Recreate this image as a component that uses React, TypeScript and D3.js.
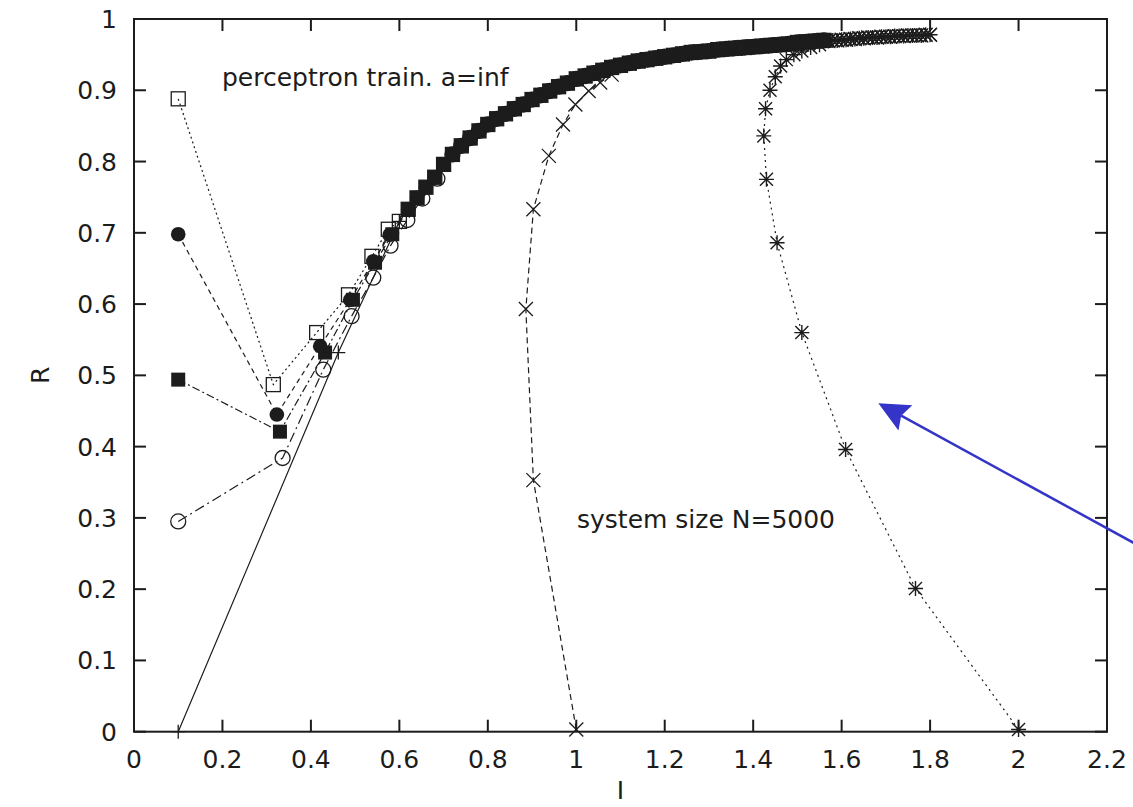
import React from "react";
import * as d3 from "d3";

const xTicks = [0, 0.2, 0.4, 0.6, 0.8, 1, 1.2, 1.4, 1.6, 1.8, 2, 2.2];
const yTicks = [0, 0.1, 0.2, 0.3, 0.4, 0.5, 0.6, 0.7, 0.8, 0.9, 1];

// shared upper branch (I, R) where the runs pile up
const band: [number, number][] = [
  [0.6, 0.716], [0.62, 0.733], [0.64, 0.749], [0.66, 0.764], [0.68, 0.778],
  [0.7, 0.796], [0.72, 0.81], [0.74, 0.822], [0.76, 0.833], [0.78, 0.843],
  [0.8, 0.852], [0.82, 0.86], [0.84, 0.867], [0.86, 0.874], [0.88, 0.88],
  [0.9, 0.887], [0.92, 0.893], [0.94, 0.899], [0.96, 0.905], [0.98, 0.91],
  [1.0, 0.916], [1.02, 0.92], [1.04, 0.924], [1.06, 0.928], [1.08, 0.932],
  [1.1, 0.935], [1.12, 0.938], [1.14, 0.941], [1.16, 0.943], [1.18, 0.945],
  [1.2, 0.947], [1.22, 0.949], [1.24, 0.951], [1.26, 0.953], [1.28, 0.954],
  [1.3, 0.955], [1.32, 0.957], [1.34, 0.958], [1.36, 0.959], [1.38, 0.96],
  [1.4, 0.961], [1.42, 0.962], [1.44, 0.963], [1.46, 0.964], [1.48, 0.965],
  [1.5, 0.967], [1.52, 0.968], [1.54, 0.969], [1.56, 0.97],
];

// asterisk / cross tail beyond I=1.56
const tail: [number, number][] = [
  [1.57, 0.969], [1.58, 0.97], [1.59, 0.97], [1.6, 0.971], [1.61, 0.971],
  [1.62, 0.972], [1.63, 0.972], [1.64, 0.973], [1.65, 0.973], [1.66, 0.974],
  [1.67, 0.974], [1.68, 0.974], [1.69, 0.975], [1.7, 0.975], [1.71, 0.975],
  [1.72, 0.976], [1.73, 0.976], [1.74, 0.976], [1.75, 0.977], [1.76, 0.977],
  [1.77, 0.977], [1.78, 0.977], [1.79, 0.978], [1.8, 0.978],
];

const openSquareHead: [number, number][] = [
  [0.1, 0.888], [0.315, 0.487], [0.413, 0.56], [0.485, 0.613], [0.538, 0.667], [0.575, 0.705],
];
const filledCircleHead: [number, number][] = [
  [0.1, 0.698], [0.323, 0.445], [0.421, 0.541], [0.489, 0.606], [0.541, 0.66], [0.578, 0.697],
];
const filledSquareHead: [number, number][] = [
  [0.1, 0.494], [0.33, 0.421], [0.432, 0.532], [0.495, 0.606], [0.545, 0.658], [0.584, 0.698],
];
const openCircleHead: [number, number][] = [
  [0.1, 0.295], [0.336, 0.384], [0.428, 0.508], [0.492, 0.583], [0.541, 0.637],
  [0.58, 0.682], [0.618, 0.718], [0.652, 0.748], [0.686, 0.776],
];
const plusHead: [number, number][] = [[0.1, 0], [0.462, 0.532]];
const crossHead: [number, number][] = [
  [1.0, 0.003], [0.903, 0.353], [0.886, 0.593], [0.903, 0.733], [0.938, 0.808],
  [0.97, 0.852], [0.998, 0.88], [1.028, 0.899], [1.054, 0.911], [1.08, 0.922],
];
const starHead: [number, number][] = [
  [2.0, 0.003], [1.767, 0.201], [1.609, 0.396], [1.51, 0.56], [1.454, 0.686],
  [1.43, 0.775], [1.424, 0.836], [1.428, 0.874], [1.438, 0.9], [1.45, 0.919],
  [1.462, 0.934], [1.475, 0.943], [1.492, 0.95], [1.51, 0.955], [1.53, 0.96], [1.55, 0.964],
];

const arrowTail: [number, number] = [2.26, 0.265];
const arrowTip: [number, number] = [1.683, 0.461];

type Kind = "osq" | "fci" | "fsq" | "oci" | "plus" | "cross" | "star";

const series: { kind: Kind; dash: string | null; pts: [number, number][] }[] = [
  { kind: "oci", dash: "10,4,2,4", pts: [...openCircleHead, ...band.filter(d => d[0] > 0.7)] },
  { kind: "osq", dash: "2,3", pts: [...openSquareHead, ...band] },
  { kind: "plus", dash: null, pts: [...plusHead, ...band] },
  { kind: "cross", dash: "6,4", pts: [...crossHead, ...band.filter(d => d[0] > 1.09), ...tail] },
  { kind: "star", dash: "2,4", pts: [...starHead, ...tail] },
  { kind: "fsq", dash: "8,3,2,3", pts: [...filledSquareHead, ...band.filter(d => d[0] > 0.61)] },
  { kind: "fci", dash: "5,4", pts: [...filledCircleHead, ...band.filter(d => d[0] > 0.61)] },
];

const INK = "#1c1c1c";
const FONT = "'DejaVu Sans', sans-serif";

function Marker({ kind, cx, cy }: { kind: Kind; cx: number; cy: number }) {
  const s = 7;
  switch (kind) {
    case "osq":
      return <rect x={cx - s} y={cy - s} width={2 * s} height={2 * s} fill="none" stroke={INK} strokeWidth={1.3} />;
    case "fsq":
      return <rect x={cx - s} y={cy - s} width={2 * s} height={2 * s} fill={INK} />;
    case "fci":
      return <circle cx={cx} cy={cy} r={7.3} fill={INK} />;
    case "oci":
      return <circle cx={cx} cy={cy} r={7.5} fill="none" stroke={INK} strokeWidth={1.3} />;
    case "plus":
      return <path d={`M${cx - 7},${cy}H${cx + 7}M${cx},${cy - 7}V${cy + 7}`} stroke={INK} strokeWidth={1.3} />;
    case "cross":
      return <path d={`M${cx - 7},${cy - 7}L${cx + 7},${cy + 7}M${cx - 7},${cy + 7}L${cx + 7},${cy - 7}`} stroke={INK} strokeWidth={1.3} />;
    case "star":
      return (
        <path
          d={`M${cx - 7.5},${cy}H${cx + 7.5}M${cx},${cy - 7.5}V${cy + 7.5}M${cx - 6.5},${cy - 6.5}L${cx + 6.5},${cy + 6.5}M${cx - 6.5},${cy + 6.5}L${cx + 6.5},${cy - 6.5}`}
          stroke={INK}
          strokeWidth={1.4}
        />
      );
  }
}

export default function App() {
  const W = 1133, H = 807;
  const x = d3.scaleLinear().domain([0, 2.2]).range([134, 1107]);
  const y = d3.scaleLinear().domain([0, 1]).range([731.7, 19]);
  const [x0, x1] = x.range();
  const [y0, y1] = y.range();
  const tick = 12;
  const line = d3.line<[number, number]>().x(d => x(d[0])).y(d => y(d[1]));
  const fmt = d3.format("~g");

  // arrow geometry
  const tx = x(arrowTip[0]), ty = y(arrowTip[1]);
  const sx = x(arrowTail[0]), sy = y(arrowTail[1]);
  const ang = Math.atan2(sy - ty, sx - tx);
  const hl = 34, spread = (25 * Math.PI) / 180;
  const b1 = [tx + hl * Math.cos(ang - spread), ty + hl * Math.sin(ang - spread)];
  const b2 = [tx + hl * Math.cos(ang + spread), ty + hl * Math.sin(ang + spread)];
  const notch = [tx + 26 * Math.cos(ang), ty + 26 * Math.sin(ang)];

  return (
    <svg width={W} height={H} style={{ position: "absolute", left: 0, top: 0, background: "#fff" }} fontFamily={FONT}>
      <rect width={W} height={H} fill="#fff" />
      {/* series lines */}
      {series.map((s, i) => (
        <path key={"l" + i} d={line(s.pts) ?? ""} fill="none" stroke={INK} strokeWidth={1.2} strokeDasharray={s.dash ?? undefined} />
      ))}
      {/* markers */}
      {series.map((s, i) => (
        <g key={"m" + i}>
          {s.pts.map((d, j) => (
            <Marker key={j} kind={s.kind} cx={x(d[0])} cy={y(d[1])} />
          ))}
        </g>
      ))}

      {/* frame + ticks */}
      <rect x={x0} y={y1} width={x1 - x0} height={y0 - y1} fill="none" stroke={INK} strokeWidth={2} />
      {xTicks.map(t => (
        <g key={"xt" + t}>
          <line x1={x(t)} x2={x(t)} y1={y0} y2={y0 - tick} stroke={INK} strokeWidth={2} />
          <line x1={x(t)} x2={x(t)} y1={y1} y2={y1 + tick} stroke={INK} strokeWidth={2} />
          <text x={x(t)} y={768} textAnchor="middle" fontSize={25} fill={INK}>{fmt(t)}</text>
        </g>
      ))}
      {yTicks.map(t => (
        <g key={"yt" + t}>
          <line x1={x0} x2={x0 + tick} y1={y(t)} y2={y(t)} stroke={INK} strokeWidth={2} />
          <line x1={x1} x2={x1 - tick} y1={y(t)} y2={y(t)} stroke={INK} strokeWidth={2} />
          <text x={117} y={y(t)} dy="0.36em" textAnchor="end" fontSize={25} fill={INK}>{fmt(t)}</text>
        </g>
      ))}

      {/* axis titles */}
      <text x={(x0 + x1) / 2} y={799} textAnchor="middle" fontSize={25} fill={INK}>I</text>
      <text transform={`translate(40,${(y0 + y1) / 2}) rotate(-90)`} textAnchor="middle" dy="0.36em" fontSize={25} fill={INK}>R</text>

      {/* annotations */}
      <text x={222} y={86} fontSize={25} fill={INK}>perceptron train. a=inf</text>
      <text x={577} y={528} fontSize={25} fill={INK}>system size N=5000</text>

      {/* blue arrow */}
      <line x1={sx} y1={sy} x2={notch[0]} y2={notch[1]} stroke="#3434c8" strokeWidth={2.5} />
      <polygon points={`${tx},${ty} ${b1[0]},${b1[1]} ${notch[0]},${notch[1]} ${b2[0]},${b2[1]}`} fill="#3434c8" />
    </svg>
  );
}
